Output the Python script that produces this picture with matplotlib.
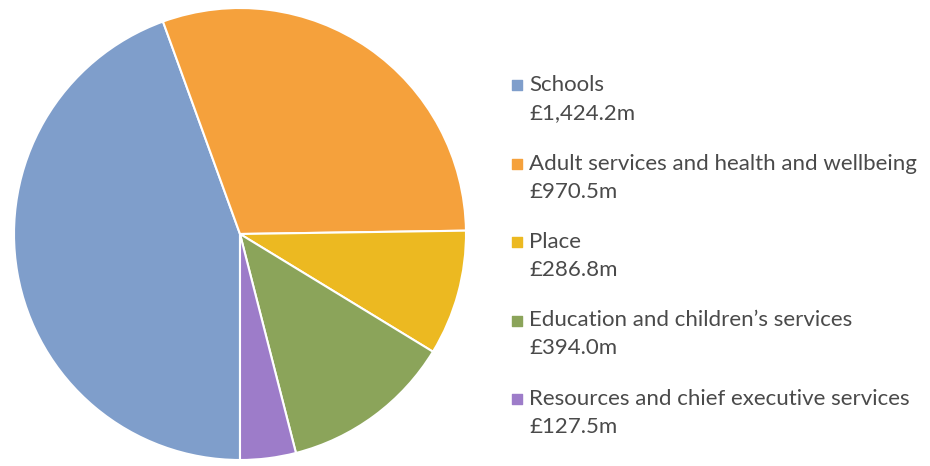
import matplotlib
matplotlib.use("Agg")
import matplotlib.pyplot as plt

plt.rcParams['font.family'] = ['Lato', 'DejaVu Sans']

# Spending by directorate (£m)
categories = [
    "Schools",
    "Adult services and health and wellbeing",
    "Place",
    "Education and children\u2019s services",
    "Resources and chief executive services",
]
values = [1424.2, 970.5, 286.8, 394.0, 127.5]
value_labels = ["£1,424.2m", "£970.5m", "£286.8m", "£394.0m", "£127.5m"]
colors = ["#7f9ecb", "#f5a13c", "#ecb921", "#8ba45a", "#9d7cc9"]

W, H = 930, 466
fig = plt.figure(figsize=(W / 100, H / 100), dpi=100)
fig.patch.set_facecolor("white")

# pie axes: centre (240, 234), radius 226 px
cx, cy, r = 240, 234, 226
ax = fig.add_axes([(cx - r) / W, (H - cy - r) / H, 2 * r / W, 2 * r / H])
wedges, _ = ax.pie(values, colors=colors, startangle=270, counterclock=False,
                   wedgeprops=dict(edgecolor="white", linewidth=1.5))
ax.set_xlim(-1, 1)
ax.set_ylim(-1, 1)
ax.set_aspect("equal")

# legend drawn by hand so the marker sits on the first line
lax = fig.add_axes([0, 0, 1, 1])
lax.set_xlim(0, W)
lax.set_ylim(H, 0)
lax.axis("off")

text_color = "#4a4a4a"
y0, step = 85, 78.5
for i, (cat, val, col) in enumerate(zip(categories, value_labels, colors)):
    y = y0 + i * step
    lax.scatter([517], [y], marker="s", s=42, color=col, zorder=3)
    lax.text(529, y, cat, fontsize=16, color=text_color, va="center", ha="left")
    lax.text(529, y + 28, val, fontsize=16, color=text_color, va="center", ha="left")

fig.savefig("out.png", dpi=100)
